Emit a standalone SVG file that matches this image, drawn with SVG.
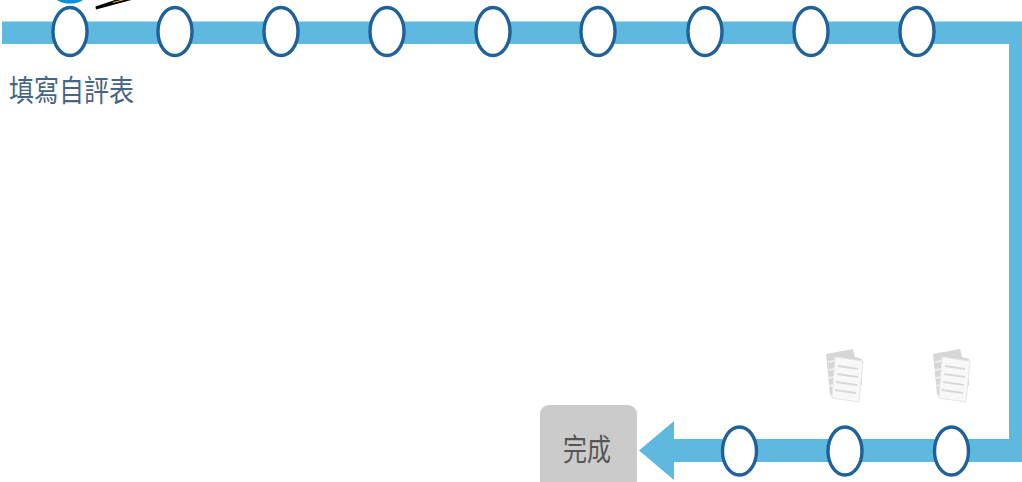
<svg xmlns="http://www.w3.org/2000/svg" width="1022" height="482" viewBox="0 0 1022 482">
<style>
.stop{fill:#fff;stroke:#1f6198;stroke-width:3.4}
.band{fill:#5fb8df}
.lbl{font-family:"Liberation Sans","Noto Sans CJK TC",sans-serif}
.sheet{fill:#f8f8f8;stroke:#e6e6e6;stroke-width:1}
.back{fill:#d6d6d6}
.row{stroke:#d8d8d8;stroke-width:2.2}
</style>
<defs>
<g id="doc">
<path class="back" d="M0 5L27 0L29 8L36 10L36 36L8 50L4 45Z"/>
<path class="sheet" d="M9 8L37 12L33 53L6 49Z"/>
<path class="row" d="M12 17L32 20M11 25L32 28M10 33L31 36M9 41L30 44"/>
<path d="M2 13L8 12M2 21L8 20M3 29L8 28M3 37L7 36" stroke="#eee" stroke-width="2"/>
</g>
</defs>
<g id="connectors">
<path class="band" d="M2 21.500H1022V462H674V439H1009V44H2Z"/>
<path class="band" d="M639 450.500L674 421V480Z"/>
</g>
<g id="marker"><ellipse cx="70" cy="-8" rx="18" ry="11.500" fill="#0f8fd6"/>
<path d="M96 9.500L135 -1L118 -1L95.500 6.500Z" fill="#000"/>
<path d="M113 2.500L130 -2" stroke="#e0b030" stroke-width="1"/></g>
<g id="n1"><ellipse class="stop" cx="70" cy="31.500" rx="17" ry="24"/><text class="lbl" transform="translate(9 101) scale(1 1.200)" font-size="25" fill="#456585">填寫自評表</text></g>
<g id="n2"><ellipse class="stop" cx="175" cy="31.500" rx="17" ry="24"/></g>
<g id="n3"><ellipse class="stop" cx="281" cy="31.500" rx="17" ry="24"/></g>
<g id="n4"><ellipse class="stop" cx="387" cy="31.500" rx="17" ry="24"/></g>
<g id="n5"><ellipse class="stop" cx="493" cy="31.500" rx="17" ry="24"/></g>
<g id="n6"><ellipse class="stop" cx="598" cy="31.500" rx="17" ry="24"/></g>
<g id="n7"><ellipse class="stop" cx="705" cy="31.500" rx="17" ry="24"/></g>
<g id="n8"><ellipse class="stop" cx="811" cy="31.500" rx="17" ry="24"/></g>
<g id="n9"><ellipse class="stop" cx="917" cy="31.500" rx="17" ry="24"/></g>
<g id="n10"><use href="#doc" x="826" y="349"/><ellipse class="stop" cx="845" cy="451" rx="17" ry="24"/></g>
<g id="n11"><use href="#doc" x="933" y="349"/><ellipse class="stop" cx="951.500" cy="451" rx="17" ry="24"/></g>
<g id="n12"><ellipse class="stop" cx="739.500" cy="451" rx="17" ry="24"/></g>
<g id="done"><rect x="540" y="405" width="97" height="90" rx="9" fill="#cbcbcb"/><text class="lbl" transform="translate(563 460) scale(1 1.250)" font-size="24" fill="#555">完成</text></g>
</svg>
